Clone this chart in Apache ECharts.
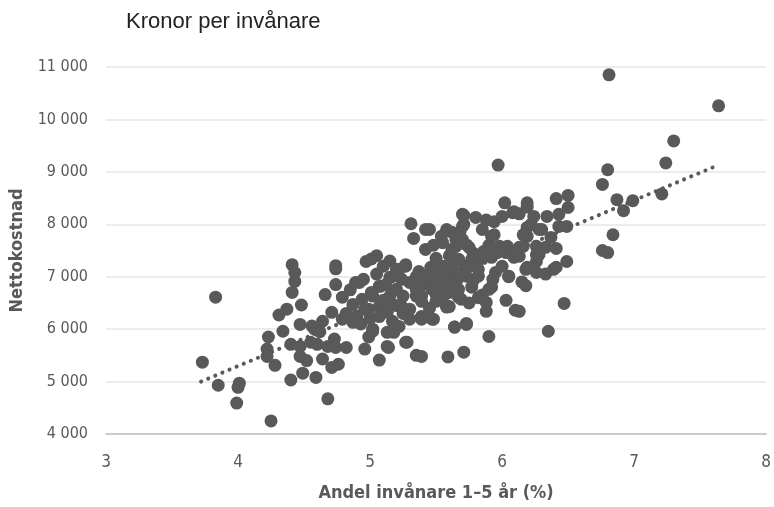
<!DOCTYPE html>
<html>
<head>
<meta charset="utf-8">
<script src="https://cdn.jsdelivr.net/npm/echarts@6/dist/echarts.min.js"></script>
<style>
  html, body { margin: 0; padding: 0; background: #fff; }
  #chart { width: 774px; height: 507px; }
</style>
</head>
<body>
<div id="chart"></div>
<script>
// Andel invånare 1–5 år (%) per kommun
const shareValues = [
  3.73,3.83,3.85,4.01,4.00,3.99,4.25,4.23,4.22,4.22,
  4.28,4.31,4.34,4.37,4.40,4.41,4.43,4.43,4.41,4.48,
  4.40,4.47,4.47,4.49,4.47,4.56,4.59,4.64,4.71,4.76,
  4.60,4.68,4.74,4.82,4.96,5.07,5.14,5.27,5.35,5.39,
  4.58,4.64,4.73,4.71,4.79,4.87,4.99,5.02,5.18,5.17,
  4.66,4.74,4.89,4.79,4.87,4.94,4.99,5.07,5.08,5.01,
  5.15,5.20,5.15,5.24,5.30,5.39,5.35,5.30,4.74,4.74,
  4.68,5.31,5.42,5.33,5.42,5.05,4.97,5.01,5.20,5.27,
  5.37,5.58,5.54,5.70,5.71,5.65,5.62,5.27,5.22,5.16,
  5.46,5.55,5.67,4.92,5.07,5.24,5.35,5.45,5.58,5.66,
  5.02,5.15,5.25,5.39,5.50,5.60,5.67,4.96,5.07,5.13,
  5.30,5.39,5.48,5.58,5.02,5.13,5.28,5.64,5.73,5.13,
  5.97,6.02,6.09,6.19,5.71,5.80,5.94,6.00,5.45,5.70,
  5.70,5.94,6.16,5.65,5.75,5.86,6.00,6.13,5.67,5.77,
  6.03,6.10,5.52,5.62,5.73,5.82,5.95,6.05,6.18,5.42,
  5.52,5.62,5.73,5.82,5.47,5.58,5.67,5.77,5.90,5.39,
  5.50,5.60,5.69,5.88,5.47,5.39,5.58,5.64,5.59,5.71,
  5.90,5.73,6.05,6.18,6.03,5.88,6.10,5.92,6.19,6.41,
  6.08,5.88,6.24,6.34,6.22,6.30,6.19,6.37,5.92,5.73,
  5.98,6.04,6.10,6.28,6.41,5.92,6.09,6.26,6.19,6.41,
  6.26,5.80,5.75,6.49,6.50,6.50,6.43,6.49,6.43,6.28,
  6.16,6.26,6.33,6.13,6.26,6.33,6.39,6.15,6.47,6.13,
  6.35,6.81,7.64,7.30,7.24,6.80,6.76,6.87,6.99,6.92,
  7.21,6.84,6.76,6.80,6.13,6.19,5.50,5.60,5.45,5.35,
  5.55,5.65,5.78,5.85,5.75,5.55,5.45,5.25,5.10,5.20,
  5.35,5.40,5.60,5.70,5.85,5.95,5.90,5.78,5.82,5.93,
  6.00,5.55,5.48,5.62,5.85,5.68,4.90,4.85,4.95,5.05,
  5.10,5.15,5.12,4.82,4.62,4.55,4.52,4.93,5.00,5.22
];

// Nettokostnad, kronor per invånare
const costValues = [
  5370,6610,4930,4970,4890,4590,4250,5850,5620,5480,
  5310,6270,5960,6380,5030,7230,7080,6910,6700,6460,
  5710,5670,5480,5160,6090,6060,5080,5430,5270,5330,
  5710,5670,5650,5650,5620,5410,5650,5750,5500,5480,
  6000,6150,5810,6320,6190,6130,5850,5960,5940,6150,
  6660,6850,6890,6610,6470,6570,6380,6430,6820,6700,
  6630,6760,6990,6430,6190,6240,6630,6890,7150,7210,
  4670,8010,7900,7730,7520,7400,7290,7340,7140,7200,
  7100,7900,7770,8190,8000,7710,7520,7230,7140,6990,
  7180,7200,7330,6890,6820,6950,6890,6950,6950,6950,
  6630,6510,6630,6630,6660,6700,6610,6380,6240,6320,
  6380,6230,6190,6430,6000,5940,5750,6040,6090,5670,
  9130,8410,8240,8330,8170,8130,8050,8150,7900,7960,
  7710,7800,7800,7580,7560,7480,7560,7560,7330,7330,
  7460,7390,7200,7200,7200,7140,7080,7010,7140,6950,
  7010,7010,7010,7010,6760,6760,6760,6800,6760,6530,
  6530,6430,6570,6340,6190,6190,6420,6040,5470,5560,
  5860,6110,7000,6830,6550,6510,6360,6800,8410,8490,
  8220,8080,8150,8150,8000,7900,7770,7750,7770,7610,
  7580,7580,7480,7420,7540,7370,7370,7290,7180,7180,
  7080,7250,7200,7290,8550,8320,8190,7960,7960,7900,
  7580,7580,7560,7390,7420,7050,7140,6900,6490,6340,
  5960,10850,10260,9590,9170,9040,8760,8470,8450,8260,
  8580,7800,7500,7460,8200,7940,7350,7400,7050,7000,
  6850,6880,6920,6650,6500,6600,6400,6300,6550,6450,
  6750,6850,7100,7100,7350,7450,7600,7450,6600,6950,
  7200,7650,7600,7850,7900,7850,6250,6750,6950,7050,
  7200,7300,6850,6300,5950,5750,5400,6100,6200,6050
];

// trendlinjens ändpunkter, avlästa i bilden
const trendX = [3.72, 7.62];
const trendY = [5000, 9110];

const xTicks = [3, 4, 5, 6, 7, 8];
const yTicks = [4000, 5000, 6000, 7000, 8000, 9000, 10000, 11000];

const narrow = "'Liberation Sans Narrow', 'DejaVu Sans Condensed', 'Liberation Sans', sans-serif";
const grey = '#595959';

const points = shareValues.map((x, i) => [x, costValues[i]]);
const trend = trendX.map((x, i) => [x, trendY[i]]);

const chart = echarts.init(document.getElementById('chart'), null, { renderer: 'canvas' });

chart.setOption({
  animation: false,
  title: {
    text: 'Kronor per invånare',
    left: 121,
    top: 6,
    textStyle: { fontFamily: "'Liberation Sans', Arial, sans-serif", fontSize: 22, fontWeight: 'normal', color: '#222' }
  },
  grid: { left: 106, right: 6, top: 67, bottom: 72 },
  xAxis: {
    type: 'value',
    min: xTicks[0],
    max: xTicks[xTicks.length - 1],
    interval: 1,
    name: 'Andel invånare 1–5 år (%)',
    nameLocation: 'middle',
    nameGap: 50,
    nameTextStyle: { fontFamily: narrow, fontSize: 18, fontWeight: 'bold', color: grey },
    axisLine: { show: true, lineStyle: { color: '#bfbfbf', width: 1.5 } },
    axisTick: { show: false },
    splitLine: { show: false },
    axisLabel: { fontFamily: narrow, fontSize: 17, color: grey, margin: 20 }
  },
  yAxis: {
    type: 'value',
    min: yTicks[0],
    max: yTicks[yTicks.length - 1],
    interval: 1000,
    name: 'Nettokostnad',
    nameLocation: 'middle',
    nameGap: 80,
    nameTextStyle: { fontFamily: narrow, fontSize: 18, fontWeight: 'bold', color: grey },
    axisLine: { show: false },
    axisTick: { show: false },
    splitLine: { lineStyle: { color: '#e6e6e6', width: 1.5 } },
    axisLabel: {
      fontFamily: narrow, fontSize: 16, color: grey, margin: 18,
      formatter: v => String(v).replace(/\B(?=(\d{3})+(?!\d))/g, ' ')
    }
  },
  series: [
    {
      name: 'Kommuner',
      type: 'scatter',
      data: points,
      symbol: 'circle',
      symbolSize: 13,
      itemStyle: { color: grey, opacity: 1 }
    },
    {
      name: 'Trend',
      type: 'line',
      data: trend,
      symbol: 'none',
      z: 3,
      lineStyle: { color: grey, width: 4, type: [0.1, 7.6], cap: 'round' }
    }
  ]
});
</script>
</body>
</html>
